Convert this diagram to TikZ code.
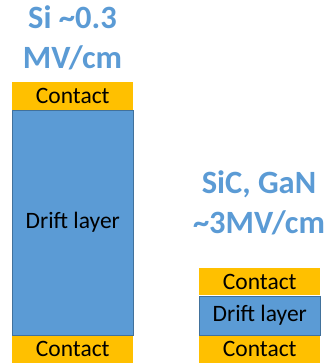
\documentclass[tikz,border=0pt]{standalone}
\usepackage{fontspec}
\setmainfont{Carlito}
\usepackage{tikz}
\usetikzlibrary{positioning}
\definecolor{ctgold}{HTML}{FFC000}
\definecolor{ctblue}{HTML}{5B9BD5}
\definecolor{ctedge}{HTML}{41719C}

\begin{document}
\begin{tikzpicture}[x=1pt, y=1pt,
  contact/.style={rectangle, fill=ctgold, inner sep=0pt, minimum width=121pt, minimum height=27.5pt, font=\fontsize{23.5}{26}\selectfont},
  drift/.style={rectangle, draw=ctedge, fill=ctblue, line width=0.5pt, inner sep=0pt, minimum width=121pt, font=\fontsize{23.5}{26}\selectfont},
  field/.style={align=center, inner sep=0pt, text=ctblue, font=\bfseries\fontsize{32.5}{40}\selectfont},
]
\useasboundingbox (0,0) rectangle (330,363);
% Si: thick drift layer
\node[contact] (sibot) at (72.75,14) {Contact};
\node[drift, minimum height=224.5pt, above=0pt of sibot] (sidrift) {Drift layer};
\node[contact, above=0pt of sidrift] (sitop) {Contact};
\node[field, anchor=north] (sititle) at (72.5,357) {Si \textasciitilde0.3\\MV/cm};
% SiC, GaN: thin drift layer
\node[contact] (wbbot) at (259.75,14) {Contact};
\node[drift, minimum height=39pt, above=0pt of wbbot] (wbdrift) {Drift layer};
\node[contact, above=0pt of wbdrift] (wbtop) {Contact};
\node[field, anchor=north] (wbtitle) at (259,193) {SiC, GaN\\\textasciitilde3MV/cm};
\end{tikzpicture}
\end{document}
